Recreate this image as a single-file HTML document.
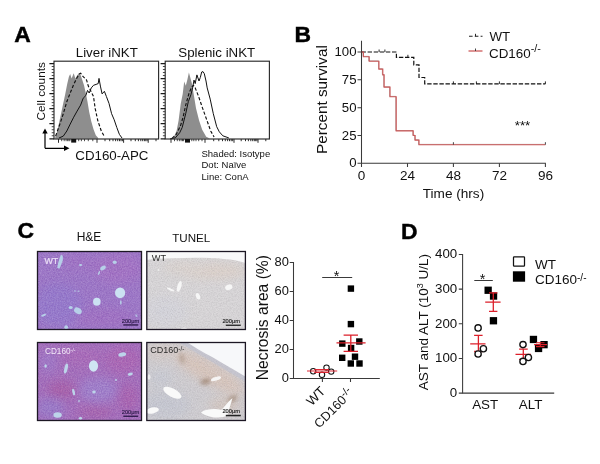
<!DOCTYPE html>
<html><head><meta charset="utf-8"><title>Figure</title>
<style>
html,body{margin:0;padding:0;background:#fff;}
body{width:600px;height:464px;overflow:hidden;font-family:"Liberation Sans",sans-serif;}
svg{display:block;will-change:transform;}
svg text{font-family:"Liberation Sans",sans-serif;}
</style></head><body>
<svg width="600" height="464" viewBox="0 0 600 464">
<rect width="600" height="464" fill="#fff"/>
<text x="14.3" y="42.0" font-size="22.9" font-weight="bold" fill="#000" stroke="#000" stroke-width="0.45">A</text>
<text x="294.6" y="42.0" font-size="22.9" font-weight="bold" fill="#000" stroke="#000" stroke-width="0.45">B</text>
<text x="17.4" y="238.0" font-size="22.9" font-weight="bold" fill="#000" stroke="#000" stroke-width="0.45">C</text>
<text x="401.0" y="239.0" font-size="22.9" font-weight="bold" fill="#000" stroke="#000" stroke-width="0.45">D</text>
<text fill="#111" x="106.8" y="56.6" font-size="13.3" text-anchor="middle">Liver iNKT</text>
<text fill="#111" x="216.8" y="56.6" font-size="13.3" text-anchor="middle">Splenic iNKT</text>
<text fill="#111" transform="translate(44.6,91.3) rotate(-90)" font-size="11.8" text-anchor="middle">Cell counts</text>
<text fill="#111" x="75.3" y="159.5" font-size="13.3">CD160-APC</text>
<text fill="#111" x="201.5" y="156.7" font-size="9.5">Shaded: Isotype</text>
<text fill="#111" x="201.5" y="168.2" font-size="9.5">Dot: Naïve</text>
<text fill="#111" x="201.5" y="179.7" font-size="9.5">Line: ConA</text>
<path d="M45,148.3 V132 M45,148.3 H65" stroke="#000" stroke-width="1.2" fill="none"/>
<path d="M42.3,133.5 L45,128.5 L47.7,133.5 Z M64,145.6 L69.5,148.3 L64,151 Z" fill="#000"/>
<polygon points="55.1,138.7 55.1,137.9 57.3,131.0 59.9,118.9 62.5,106.8 65.1,94.8 67.1,84.4 68.9,76.7 70.2,74.1 71.6,78.4 73.7,73.2 75.4,78.4 77.5,74.9 79.2,73.2 80.6,74.9 82.3,80.1 84.0,85.3 85.8,93.0 87.5,101.7 89.2,112.0 91.3,121.5 93.5,129.2 95.8,135.3 98.2,137.9 98.2,138.7" fill="#8e8e8e"/>
<polyline points="55.6,136.1 59.9,124.1 63.3,113.7 66.8,101.7 70.2,93.0 73.7,84.4 77.1,77.5 79.2,74.1 80.6,73.2 83.2,76.7 86.6,80.1 88.3,86.1 90.1,89.6 93.5,96.5 95.2,108.6 97.8,120.6 101.3,131.0 104.7,137.0" fill="none" stroke="#111" stroke-width="1.15" stroke-dasharray="3.2,1.9" stroke-linejoin="round"/>
<polyline points="59.0,138.0 63.3,136.1 66.8,131.0 70.2,124.1 73.7,117.2 77.1,111.1 80.6,105.1 83.2,98.2 85.8,95.6 87.5,90.4 89.2,93.0 91.3,87.9 93.5,85.3 96.1,84.4 98.2,83.6 99.0,78.4 100.4,86.1 102.1,93.9 104.4,91.3 106.4,96.5 109.0,103.4 111.6,113.7 114.2,119.8 116.8,127.5 119.4,134.4 122.0,138.0" fill="none" stroke="#111" stroke-width="1" stroke-linejoin="round"/>
<rect x="54.0" y="61.2" width="104.6" height="77.8" fill="none" stroke="#2a2a2a" stroke-width="1.15"/>
<path d="M54.0,138.75h-4.6M54.0,123.70h-4.6M54.0,108.65h-4.6M54.0,93.60h-4.6M54.0,78.55h-4.6M54.0,63.50h-4.6" stroke="#1a1a1a" stroke-width="1.25" fill="none"/>
<path d="M54.0,135.74h-2.3M54.0,132.73h-2.3M54.0,129.72h-2.3M54.0,126.71h-2.3M54.0,120.69h-2.3M54.0,117.68h-2.3M54.0,114.67h-2.3M54.0,111.66h-2.3M54.0,105.64h-2.3M54.0,102.63h-2.3M54.0,99.62h-2.3M54.0,96.61h-2.3M54.0,90.59h-2.3M54.0,87.58h-2.3M54.0,84.57h-2.3M54.0,81.56h-2.3M54.0,75.54h-2.3M54.0,72.53h-2.3M54.0,69.52h-2.3M54.0,66.51h-2.3" stroke="#333" stroke-width="0.9" fill="none"/>
<path d="M58.5,139.0v3.8M97.0,139.0v3.8M105.0,139.0v2.2M109.7,139.0v2.2M113.0,139.0v2.2M115.6,139.0v2.2M117.7,139.0v2.2M119.5,139.0v2.2M121.0,139.0v2.2M122.4,139.0v2.2M123.6,139.0v3.8M131.0,139.0v2.2M135.3,139.0v2.2M138.4,139.0v2.2M140.8,139.0v2.2M142.7,139.0v2.2M144.4,139.0v2.2M145.8,139.0v2.2M147.1,139.0v2.2M148.2,139.0v3.8M156.0,139.0v2.2" stroke="#222" stroke-width="0.95" fill="none"/>
<path d="M61.7,139.0v2.2M64.2,139.0v2.2M66.1,139.0v2.2M67.6,139.0v2.2M68.9,139.0v2.2M69.9,139.0v2.2M78.7,139.0v2.2M81.4,139.0v2.2M84.5,139.0v2.2M88.3,139.0v2.2M92.8,139.0v2.2" stroke="#222" stroke-width="0.8" fill="none"/>
<rect x="71.2" y="139.0" width="5.0" height="3.6" fill="#111"/>
<polygon points="173.5,138.5 173.5,137.8 176.6,130.7 178.6,120.5 180.7,104.1 182.7,93.9 184.2,81.6 185.8,85.7 187.4,79.5 188.9,72.4 190.3,77.5 191.9,83.6 194.0,95.9 196.0,108.2 199.1,120.5 202.2,129.7 206.2,136.8 209.3,138.2 209.3,138.5" fill="#8e8e8e"/>
<polyline points="172.0,138.4 176.2,134.4 180.5,125.8 183.1,117.2 185.7,105.1 189.1,93.0 191.7,87.0 193.4,85.3 195.2,87.9 198.6,96.5 202.1,106.8 206.4,118.9 210.7,131.0 214.1,137.0" fill="none" stroke="#111" stroke-width="1.15" stroke-dasharray="3.2,1.9" stroke-linejoin="round"/>
<polyline points="170.2,138.7 175.3,137.9 179.7,132.7 182.2,127.5 185.7,113.7 188.3,101.7 190.9,94.8 192.6,87.9 194.0,80.1 195.2,83.6 196.9,74.9 199.0,81.0 200.3,77.5 201.7,72.0 203.0,71.6 204.3,73.7 206.0,81.0 207.2,87.9 210.2,99.1 213.3,113.7 216.7,126.7 219.3,131.8 222.8,135.8 228.8,137.9" fill="none" stroke="#111" stroke-width="1" stroke-linejoin="round"/>
<rect x="165.2" y="61.2" width="104.2" height="77.8" fill="none" stroke="#2a2a2a" stroke-width="1.15"/>
<path d="M165.2,138.75h-4.6M165.2,123.70h-4.6M165.2,108.65h-4.6M165.2,93.60h-4.6M165.2,78.55h-4.6M165.2,63.50h-4.6" stroke="#1a1a1a" stroke-width="1.25" fill="none"/>
<path d="M165.2,135.74h-2.3M165.2,132.73h-2.3M165.2,129.72h-2.3M165.2,126.71h-2.3M165.2,120.69h-2.3M165.2,117.68h-2.3M165.2,114.67h-2.3M165.2,111.66h-2.3M165.2,105.64h-2.3M165.2,102.63h-2.3M165.2,99.62h-2.3M165.2,96.61h-2.3M165.2,90.59h-2.3M165.2,87.58h-2.3M165.2,84.57h-2.3M165.2,81.56h-2.3M165.2,75.54h-2.3M165.2,72.53h-2.3M165.2,69.52h-2.3M165.2,66.51h-2.3" stroke="#333" stroke-width="0.9" fill="none"/>
<path d="M171.0,139.0v3.8M205.0,139.0v3.8M213.7,139.0v2.2M218.8,139.0v2.2M222.5,139.0v2.2M225.3,139.0v2.2M227.6,139.0v2.2M229.5,139.0v2.2M231.2,139.0v2.2M232.7,139.0v2.2M234.0,139.0v3.8M241.2,139.0v2.2M245.5,139.0v2.2M248.4,139.0v2.2M250.8,139.0v2.2M252.7,139.0v2.2M254.3,139.0v2.2M255.7,139.0v2.2M256.9,139.0v2.2M258.0,139.0v3.8M265.8,139.0v2.2" stroke="#222" stroke-width="0.95" fill="none"/>
<path d="M174.5,139.0v2.2M177.3,139.0v2.2M179.4,139.0v2.2M181.1,139.0v2.2M182.5,139.0v2.2M183.6,139.0v2.2M191.8,139.0v2.2M193.8,139.0v2.2M196.0,139.0v2.2M198.7,139.0v2.2M202.0,139.0v2.2" stroke="#222" stroke-width="0.8" fill="none"/>
<rect x="185" y="139.0" width="5" height="3.6" fill="#111"/>
<path d="M361.5,40.7 V163.3 H545.9" stroke="#3a3a3a" stroke-width="1.05" fill="none"/>
<text fill="#111" x="356.5" y="167.3" font-size="13.2" text-anchor="end">0</text>
<text fill="#111" x="356.5" y="139.5" font-size="13.2" text-anchor="end">25</text>
<text fill="#111" x="356.5" y="111.7" font-size="13.2" text-anchor="end">50</text>
<text fill="#111" x="356.5" y="83.8" font-size="13.2" text-anchor="end">75</text>
<text fill="#111" x="356.5" y="56.0" font-size="13.2" text-anchor="end">100</text>
<text fill="#111" x="361.5" y="179.9" font-size="13.5" text-anchor="middle">0</text>
<text fill="#111" x="407.5" y="179.9" font-size="13.5" text-anchor="middle">24</text>
<text fill="#111" x="453.4" y="179.9" font-size="13.5" text-anchor="middle">48</text>
<text fill="#111" x="499.4" y="179.9" font-size="13.5" text-anchor="middle">72</text>
<text fill="#111" x="545.4" y="179.9" font-size="13.5" text-anchor="middle">96</text>
<path d="M361.5,163.3h-4M361.5,135.5h-4M361.5,107.7h-4M361.5,79.8h-4M361.5,52.0h-4M361.5,163.3v3.6M407.5,163.3v3.6M453.4,163.3v3.6M499.4,163.3v3.6M545.4,163.3v3.6" stroke="#3a3a3a" stroke-width="1.05" fill="none"/>
<text fill="#111" transform="translate(327.2,99.6) rotate(-90)" font-size="15.3" text-anchor="middle">Percent survival</text>
<text fill="#111" x="453.5" y="197.7" font-size="13.6" text-anchor="middle">Time (hrs)</text>
<polyline points="361.5,52.0 396.4,52.0 396.4,57.3 413.8,57.3 413.8,64.8 419.0,64.8 419.0,77.5 424.7,77.5 424.7,83.9 545.4,83.9" fill="none" stroke="#111" stroke-width="1.2" stroke-dasharray="4.4,1.7"/>
<path d="M379.1,52.0v-2.5M384.9,52.0v-2.5M407.9,57.3v-2.5M453.4,83.9v-2.5M476.4,83.9v-2.5M499.4,83.9v-2.5M545.4,83.9v-2.5" stroke="#111" stroke-width="0.9" fill="none"/>
<polyline points="361.1,51.7 363.1,51.7 363.1,56.4 368.8,56.4 368.8,60.9 378.6,60.9 378.6,68.8 382.4,68.8 382.4,74.5 383.8,74.5 383.8,86.8 389.7,86.8 389.7,96.4 395.8,96.4 395.8,130.5 412.9,130.5 412.9,135.2 414.8,135.2 414.8,139.8 418.6,139.8 418.6,144.4 545.0,144.4" fill="none" stroke="#3a1515" stroke-width="0.7" opacity="0.55"/>
<polyline points="361.5,52.0 363.4,52.0 363.4,56.7 369.2,56.7 369.2,61.2 378.9,61.2 378.9,69.1 382.8,69.1 382.8,74.8 384.1,74.8 384.1,87.1 390.0,87.1 390.0,96.7 396.2,96.7 396.2,130.8 413.2,130.8 413.2,135.5 415.1,135.5 415.1,140.1 419.0,140.1 419.0,144.7 545.4,144.7" fill="none" stroke="#cc5a5a" stroke-width="1.15"/>
<path d="M453.4,144.7v-2.5M545.4,144.7v-2.5" stroke="#333" stroke-width="0.9" fill="none"/>
<path d="M469,36.3 H482.5" stroke="#222" stroke-width="1.1" stroke-dasharray="3.6,2.2" fill="none"/><path d="M475.5,36.3v-2.5" stroke="#111" stroke-width="0.9"/>
<path d="M468.5,51 H482.5" stroke="#cc5a5a" stroke-width="1.3" fill="none"/><path d="M475.5,51v-2.5" stroke="#333" stroke-width="0.9"/>
<text fill="#111" x="489.5" y="40.8" font-size="13.3">WT</text>
<text fill="#111" x="489" y="57.9" font-size="13.4">CD160<tspan dy="-5.8" font-size="10.8">-/-</tspan></text>
<text fill="#111" x="522.5" y="130.3" font-size="13.3" text-anchor="middle">***</text>
<text fill="#111" x="89" y="241.2" font-size="12" text-anchor="middle">H&amp;E</text>
<text fill="#111" x="191.3" y="241.9" font-size="11.6" text-anchor="middle">TUNEL</text>
<defs>
<filter id="nzp" x="0" y="0" width="100%" height="100%" color-interpolation-filters="sRGB"><feTurbulence type="fractalNoise" baseFrequency="0.75" numOctaves="2" seed="3"/><feColorMatrix type="matrix" values="0 0 0 0 0.42  0 0 0 0 0.22  0 0 0 0 0.62  1.6 0 0 0 -0.62"/><feComposite in2="SourceGraphic" operator="in"/></filter>
<filter id="nzw" x="0" y="0" width="100%" height="100%" color-interpolation-filters="sRGB"><feTurbulence type="fractalNoise" baseFrequency="0.8" numOctaves="2" seed="11"/><feColorMatrix type="matrix" values="0 0 0 0 0.86  0 0 0 0 0.80  0 0 0 0 0.92  0 1.6 0 0 -0.66"/><feComposite in2="SourceGraphic" operator="in"/></filter>
<filter id="nzg" x="0" y="0" width="100%" height="100%" color-interpolation-filters="sRGB"><feTurbulence type="fractalNoise" baseFrequency="0.8" numOctaves="2" seed="7"/><feColorMatrix type="matrix" values="0 0 0 0 0.55  0 0 0 0 0.53  0 0 0 0 0.55  1.5 0 0 0 -0.6"/><feComposite in2="SourceGraphic" operator="in"/></filter>
<filter id="nzl" x="0" y="0" width="100%" height="100%" color-interpolation-filters="sRGB"><feTurbulence type="fractalNoise" baseFrequency="0.8" numOctaves="2" seed="5"/><feColorMatrix type="matrix" values="0 0 0 0 0.95  0 0 0 0 0.94  0 0 0 0 0.94  0 1.5 0 0 -0.62"/><feComposite in2="SourceGraphic" operator="in"/></filter>
<filter id="bl" x="-50%" y="-50%" width="200%" height="200%"><feGaussianBlur stdDeviation="5"/></filter>
<filter id="bl3" x="-50%" y="-50%" width="200%" height="200%"><feGaussianBlur stdDeviation="2"/></filter>
<filter id="bl2" x="-30%" y="-30%" width="160%" height="160%"><feGaussianBlur stdDeviation="0.55"/></filter>
<clipPath id="c1"><rect x="37.5" y="251.5" width="104" height="78"/></clipPath>
<clipPath id="c2"><rect x="146.8" y="251.5" width="98.6" height="78"/></clipPath>
<clipPath id="c3"><rect x="37.5" y="342.5" width="104" height="78"/></clipPath>
<clipPath id="c4"><rect x="146.8" y="342.5" width="98.6" height="78"/></clipPath>
</defs>
<g clip-path="url(#c1)"><rect x="37" y="251" width="105" height="79" fill="#9e79c8"/>
<g filter="url(#bl)" opacity="0.8"><ellipse cx="58" cy="305" rx="24" ry="22" fill="#947ccd"/><ellipse cx="118" cy="268" rx="25" ry="16" fill="#a674c4"/><ellipse cx="105" cy="318" rx="30" ry="10" fill="#a272c2"/><ellipse cx="80" cy="262" rx="20" ry="8" fill="#a274c4"/></g>
<rect x="37" y="251" width="105" height="79" fill="#000" filter="url(#nzp)" opacity="0.4"/>
<rect x="37" y="251" width="105" height="79" fill="#000" filter="url(#nzw)" opacity="0.35"/>
<g fill="#b6cfe8" filter="url(#bl2)">
<path d="M60.9,254.8 L62.8,255.8 L62.9,260 L61.3,264.5 L59.5,268.6 L57.2,268 L58,263.5 L59.3,259 Z"/>
<ellipse cx="114.7" cy="262.2" rx="2" ry="1.8"/><ellipse cx="103" cy="268" rx="3.2" ry="1.9" transform="rotate(-30 103 268)"/><ellipse cx="99" cy="273" rx="0.8" ry="2" transform="rotate(20 99 273)"/>
<ellipse cx="120.1" cy="292.8" rx="5.1" ry="5.4" fill="#cbe2f2"/><ellipse cx="96.8" cy="301.7" rx="3.8" ry="4" fill="#cbe2f2"/><ellipse cx="120.8" cy="302.5" rx="0.8" ry="2.2"/>
<ellipse cx="77.9" cy="310.8" rx="4.1" ry="2.9" transform="rotate(32 77.9 310.8)"/><ellipse cx="70.7" cy="307.6" rx="2" ry="1.5"/><ellipse cx="43.6" cy="315.2" rx="2.6" ry="1.1" transform="rotate(-20 43.6 315.2)"/><ellipse cx="66.2" cy="327.2" rx="1.9" ry="2"/><ellipse cx="80.6" cy="265" rx="1.6" ry="1"/><ellipse cx="75" cy="291" rx="1" ry="0.8" opacity="0.8"/><ellipse cx="78.5" cy="291.2" rx="1" ry="0.8" opacity="0.8"/><ellipse cx="136.4" cy="315.7" rx="0.8" ry="1.6" transform="rotate(-30 136.4 315.7)" opacity="0.8"/>
</g>
<text x="44.4" y="263.6" font-size="8.9" fill="#ebe0f7" stroke="#ebe0f7" stroke-width="0.2" filter="url(#bl2)">WT</text>
<text x="130.5" y="323.2" font-size="5.7" fill="#2a1848" text-anchor="middle" stroke="#2a1848" stroke-width="0.15">200μm</text><rect x="123.3" y="324.3" width="14.9" height="1.3" fill="#2a1848"/>
</g>
<g clip-path="url(#c2)"><rect x="146" y="251" width="100" height="79" fill="#d8d6d8"/>
<g filter="url(#bl)" opacity="0.8"><ellipse cx="212" cy="271" rx="35" ry="8" fill="#ddd0c8"/><ellipse cx="165" cy="312" rx="22" ry="16" fill="#d4d4dc"/><ellipse cx="185" cy="268" rx="22" ry="6" fill="#dcd3cd"/></g>
<rect x="146" y="251" width="100" height="79" fill="#000" filter="url(#nzg)" opacity="0.33"/>
<rect x="146" y="251" width="100" height="79" fill="#000" filter="url(#nzl)" opacity="0.4"/>
<path d="M146,251 H246 V263.2 C230,257.5 200,257.3 172,258.3 C158,258.8 150,259.2 146,260 Z" fill="#f8f8f9" filter="url(#bl2)"/>
<g fill="#f6f6f6" filter="url(#bl2)"><ellipse cx="179.3" cy="286.5" rx="2" ry="5.6" transform="rotate(17 179.3 286.5)"/><ellipse cx="228.8" cy="287.3" rx="3.8" ry="2.7" transform="rotate(-20 228.8 287.3)"/><ellipse cx="198" cy="296.3" rx="2" ry="3.4" transform="rotate(-20 198 296.3)"/><ellipse cx="170.5" cy="289.5" rx="4" ry="1" transform="rotate(25 170.5 289.5)"/><ellipse cx="184" cy="328.8" rx="3" ry="1"/><ellipse cx="158.5" cy="270" rx="0.8" ry="0.8"/></g>
<text x="151.8" y="261.4" font-size="9.2" fill="#2b2b2b">WT</text>
<text x="231.2" y="323.3" font-size="5.7" fill="#222" text-anchor="middle" stroke="#222" stroke-width="0.15">200μm</text><rect x="225.8" y="324.6" width="15" height="1.3" fill="#222"/>
</g>
<g clip-path="url(#c3)"><rect x="37" y="342" width="105" height="79" fill="#a670bc"/>
<g filter="url(#bl)" opacity="0.85"><ellipse cx="98" cy="390" rx="20" ry="13" fill="#a084ce"/><ellipse cx="50" cy="408" rx="15" ry="11" fill="#9a7eca"/><ellipse cx="124" cy="360" rx="18" ry="13" fill="#ae66b2"/><ellipse cx="62" cy="390" rx="15" ry="9" fill="#aa5ea6"/><ellipse cx="82" cy="357" rx="22" ry="9" fill="#ac6cb8"/><ellipse cx="128" cy="398" rx="10" ry="14" fill="#ac64ae"/><ellipse cx="48" cy="362" rx="10" ry="12" fill="#a07ac8"/><ellipse cx="95" cy="412" rx="18" ry="6" fill="#aa64aa"/></g>
<rect x="37" y="342" width="105" height="79" fill="#000" filter="url(#nzp)" opacity="0.4"/>
<rect x="37" y="342" width="105" height="79" fill="#000" filter="url(#nzw)" opacity="0.35"/>
<g fill="#bcd4ea" filter="url(#bl2)">
<ellipse cx="93.5" cy="366" rx="4.6" ry="5.7" fill="#cfe5f3"/><ellipse cx="122.3" cy="354.5" rx="4" ry="2.1" transform="rotate(-10 122.3 354.5)"/><ellipse cx="66" cy="368.5" rx="1.7" ry="5.2" transform="rotate(12 66 368.5)"/><ellipse cx="130.3" cy="374.2" rx="2.6" ry="1.4" transform="rotate(-15 130.3 374.2)"/><ellipse cx="73.6" cy="392" rx="1.3" ry="3.4" transform="rotate(-12 73.6 392)"/><ellipse cx="57.6" cy="415" rx="4.2" ry="2.7"/><ellipse cx="94" cy="392" rx="1.8" ry="1.4"/><ellipse cx="45.6" cy="366" rx="1.2" ry="1.8"/><ellipse cx="80.5" cy="418.3" rx="1.7" ry="1.4"/><ellipse cx="79" cy="401" rx="1.2" ry="0.8"/><ellipse cx="116" cy="380" rx="0.9" ry="0.9"/>
</g>
<text x="45" y="354" font-size="8.2" fill="#f2e8f8" filter="url(#bl2)">CD160<tspan dy="-2.5" font-size="5.5">-/-</tspan></text>
<text x="130.5" y="414.3" font-size="5.7" fill="#2a1848" text-anchor="middle" stroke="#2a1848" stroke-width="0.15">200μm</text><rect x="123.3" y="415.6" width="14.9" height="1.3" fill="#2a1848"/>
</g>
<g clip-path="url(#c4)"><rect x="146" y="342" width="100" height="79" fill="#cfcdd1"/>
<g filter="url(#bl)" opacity="0.95"><ellipse cx="208" cy="372" rx="42" ry="11" fill="#d8c5bb" transform="rotate(30 208 372)"/><ellipse cx="163" cy="352" rx="18" ry="9" fill="#d4cac8"/><ellipse cx="165" cy="405" rx="25" ry="15" fill="#c6c8d2"/><ellipse cx="160" cy="378" rx="12" ry="8" fill="#c8cad4"/><ellipse cx="225" cy="405" rx="16" ry="8" fill="#d3c6c0"/></g>
<rect x="146" y="342" width="100" height="79" fill="#000" filter="url(#nzg)" opacity="0.33"/>
<rect x="146" y="342" width="100" height="79" fill="#000" filter="url(#nzl)" opacity="0.4"/>
<path d="M181,341 C195,349.5 214,360.5 247,380" fill="none" stroke="#bcc0d2" stroke-width="4.6" opacity="0.5" filter="url(#bl2)"/>
<path d="M185.5,341 H247 V377.6 C236,371 224,364 213,357.6 C202,351.5 192,346 185.5,341 Z" fill="#f7f8fa" filter="url(#bl2)"/>
<g filter="url(#bl3)"><ellipse cx="182" cy="358.5" rx="2.3" ry="5.5" fill="#a08878" opacity="0.6" transform="rotate(-15 182 358.5)"/><ellipse cx="205.5" cy="381.5" rx="5" ry="2.4" fill="#8f735f" opacity="0.8" transform="rotate(-15 205.5 381.5)"/><ellipse cx="232.5" cy="398.8" rx="5.5" ry="2.4" fill="#9a806c" opacity="0.75" transform="rotate(-35 232.5 398.8)"/></g>
<g fill="#f9f9f9" filter="url(#bl2)"><ellipse cx="172.3" cy="392.8" rx="10" ry="4.2" transform="rotate(28 172.3 392.8)"/><ellipse cx="152.5" cy="410.5" rx="6.5" ry="3" transform="rotate(-12 152.5 410.5)"/><path d="M201,412.5 C206,408.5 216,408.5 221,410 C224,408 227,402.5 232.5,398 C231,404 228.5,410 227.5,415.5 C222,418.5 208,418.5 201,412.5Z"/><ellipse cx="216" cy="378.8" rx="5.3" ry="1.8" transform="rotate(-18 216 378.8)" opacity="0.9"/><ellipse cx="149" cy="377" rx="1.6" ry="2.8" opacity="0.7"/></g>
<text x="150.3" y="353.4" font-size="9" fill="#2b2b2b">CD160<tspan dy="-2.6" font-size="6.3">-/-</tspan></text>
<text x="231.2" y="412.8" font-size="5.7" fill="#222" text-anchor="middle" stroke="#222" stroke-width="0.15">200μm</text><rect x="225.8" y="414.8" width="15" height="1.5" fill="#222"/>
</g>
<rect x="37.5" y="251.5" width="104" height="78" fill="none" stroke="#1c1724" stroke-width="1.3"/>
<rect x="146.8" y="251.5" width="98.6" height="78" fill="none" stroke="#1c1724" stroke-width="1.3"/>
<rect x="37.5" y="342.5" width="104" height="78" fill="none" stroke="#1c1724" stroke-width="1.3"/>
<rect x="146.8" y="342.5" width="98.6" height="78" fill="none" stroke="#1c1724" stroke-width="1.3"/>
<path d="M293.5,262.0 V378.4 H379.8" stroke="#3a3a3a" stroke-width="1.05" fill="none"/>
<text fill="#111" x="288.9" y="381.9" font-size="12.9" text-anchor="end">0</text>
<text fill="#111" x="288.9" y="352.9" font-size="12.9" text-anchor="end">20</text>
<text fill="#111" x="288.9" y="323.9" font-size="12.9" text-anchor="end">40</text>
<text fill="#111" x="288.9" y="295.0" font-size="12.9" text-anchor="end">60</text>
<text fill="#111" x="288.9" y="266.0" font-size="12.9" text-anchor="end">80</text>
<path d="M293.5,378.4h-3.8M293.5,349.4h-3.8M293.5,320.4h-3.8M293.5,291.5h-3.8M293.5,262.5h-3.8M322.4,378.4v3.6M350.5,378.4v3.6" stroke="#3a3a3a" stroke-width="1.05" fill="none"/>
<text fill="#111" transform="translate(267.8,317.6) rotate(-90)" font-size="15.65" text-anchor="middle">Necrosis area (%)</text>
<path d="M322.2,277.5 H352.2" stroke="#3a3a3a" stroke-width="1"/>
<text fill="#111" x="336.5" y="281.2" font-size="14.5" text-anchor="middle">*</text>
<rect x="347.7" y="285.4" width="6.4" height="6.4" fill="#000"/>
<rect x="347.7" y="320.9" width="6.4" height="6.4" fill="#000"/>
<rect x="339.1" y="340.4" width="6.4" height="6.4" fill="#000"/>
<rect x="356.1" y="338.3" width="6.4" height="6.4" fill="#000"/>
<rect x="347.9" y="344.8" width="6.4" height="6.4" fill="#000"/>
<rect x="339.0" y="354.6" width="6.4" height="6.4" fill="#000"/>
<rect x="351.8" y="353.5" width="6.4" height="6.4" fill="#000"/>
<rect x="347.6" y="360.3" width="6.4" height="6.4" fill="#000"/>
<rect x="356.3" y="360.3" width="6.4" height="6.4" fill="#000"/>
<circle cx="313.2" cy="371.3" r="2.7" fill="none" stroke="#111" stroke-width="1.05"/>
<circle cx="326.5" cy="367.6" r="2.7" fill="none" stroke="#111" stroke-width="1.05"/>
<circle cx="331.2" cy="371.6" r="2.7" fill="none" stroke="#111" stroke-width="1.05"/>
<circle cx="322" cy="374.8" r="2.7" fill="none" stroke="#111" stroke-width="1.05"/>
<path d="M336.5,342.9 H365.6 M350.8,335.2 V351.4 M343.6,335.2 H358 M343.6,351.4 H358" stroke="#dc1f2a" stroke-width="1.3" fill="none"/>
<path d="M307,371 H337.2 M314.2,369.5 H329 M314.2,372.5 H329" stroke="#dc1f2a" stroke-width="0.95" fill="none"/>
<text fill="#111" transform="translate(326.2,392) rotate(-45)" font-size="13.2" text-anchor="end">WT</text>
<text fill="#111" transform="translate(354.3,393.7) rotate(-45)" font-size="12.7" text-anchor="end">CD160<tspan dy="-4.3" font-size="10.5">-/-</tspan></text>
<path d="M462.6,253.9 V393.1 H554.2" stroke="#3a3a3a" stroke-width="1.05" fill="none"/>
<text fill="#111" x="457.20000000000005" y="396.9" font-size="13.3" text-anchor="end">0</text>
<text fill="#111" x="457.20000000000005" y="362.2" font-size="13.3" text-anchor="end">100</text>
<text fill="#111" x="457.20000000000005" y="327.6" font-size="13.3" text-anchor="end">200</text>
<text fill="#111" x="457.20000000000005" y="292.9" font-size="13.3" text-anchor="end">300</text>
<text fill="#111" x="457.20000000000005" y="258.2" font-size="13.3" text-anchor="end">400</text>
<path d="M462.6,393.1h-3.8M462.6,358.4h-3.8M462.6,323.8h-3.8M462.6,289.1h-3.8M462.6,254.4h-3.8" stroke="#3a3a3a" stroke-width="1.05" fill="none"/>
<text fill="#111" x="485.2" y="409.4" font-size="13.4" text-anchor="middle">AST</text>
<text fill="#111" x="530.6" y="409.4" font-size="13.4" text-anchor="middle">ALT</text>
<text fill="#111" transform="translate(428.4,322.1) rotate(-90)" font-size="13.5" text-anchor="middle">AST and ALT (10<tspan dy="-5" font-size="9">3</tspan><tspan dy="5"> U/L)</tspan></text>
<rect x="513.5" y="256.9" width="11" height="9.3" rx="0.7" fill="#fff" stroke="#111" stroke-width="1.25"/>
<rect x="512.9" y="271.3" width="12.2" height="10.4" fill="#000"/>
<text fill="#111" x="535" y="268.5" font-size="13.5">WT</text>
<text fill="#111" x="535" y="284.3" font-size="13.5">CD160<tspan dy="-3.4" font-size="10">-/-</tspan></text>
<path d="M474.3,280.5 H492.8" stroke="#3a3a3a" stroke-width="1"/>
<text fill="#111" x="482.6" y="283.5" font-size="14.5" text-anchor="middle">*</text>
<rect x="484.5" y="286.6" width="7.3" height="7.3" fill="#000"/>
<rect x="489.9" y="292.4" width="7.3" height="7.3" fill="#000"/>
<rect x="489.8" y="317.1" width="7.3" height="7.3" fill="#000"/>
<rect x="529.8" y="335.8" width="7.3" height="7.3" fill="#000"/>
<rect x="540.4" y="341.0" width="7.3" height="7.3" fill="#000"/>
<rect x="534.9" y="344.8" width="7.3" height="7.3" fill="#000"/>
<path d="M485.2,302.2 H500.6 M493.3,292.9 V311.3 M489,292.9 H497.4 M489,311.3 H497.4" stroke="#dc1f2a" stroke-width="1.3" fill="none"/>
<path d="M470.2,343.8 H485.5 M478.4,335.4 V351.5 M474.1,335.4 H482.6 M474.1,351.5 H482.6" stroke="#dc1f2a" stroke-width="1.3" fill="none"/>
<path d="M515.5,354.4 H531 M523.3,349.2 V359.3 M519.1,349.2 H527.7 M519.1,359.3 H527.7" stroke="#dc1f2a" stroke-width="1.3" fill="none"/>
<path d="M534.1,344.6 H547 M540.3,342.8 V346.6 M536,342.8 H544.5 M536,346.6 H544.5" stroke="#dc1f2a" stroke-width="1.1" fill="none"/>
<circle cx="478.1" cy="327.9" r="3.15" fill="#fff" stroke="#111" stroke-width="1.35"/>
<circle cx="483.4" cy="348.8" r="3.15" fill="#fff" stroke="#111" stroke-width="1.35"/>
<circle cx="478.1" cy="354" r="3.15" fill="#fff" stroke="#111" stroke-width="1.35"/>
<circle cx="523" cy="344.6" r="3.15" fill="#fff" stroke="#111" stroke-width="1.35"/>
<circle cx="528.4" cy="357.5" r="3.15" fill="#fff" stroke="#111" stroke-width="1.35"/>
<circle cx="523" cy="361.4" r="3.15" fill="#fff" stroke="#111" stroke-width="1.35"/>
</svg>
</body></html>
